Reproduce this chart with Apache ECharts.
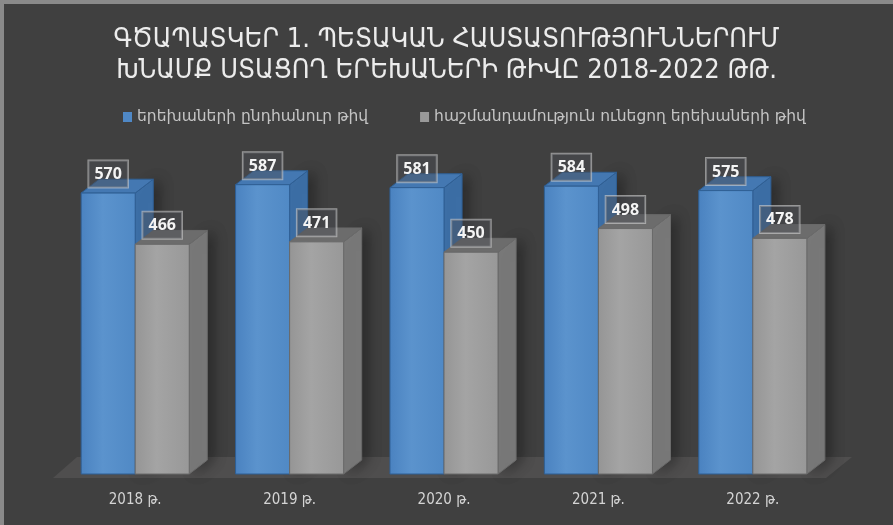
<!DOCTYPE html>
<html>
<head>
<meta charset="utf-8">
<script src="https://cdn.jsdelivr.net/npm/echarts@6/dist/echarts.min.js"></script>
<style>
	html,body{margin:0;padding:0;background:#404040;}
	#chart{width:893px;height:525px;}
</style>
</head>
<body>
<div id="chart"></div>
<script>
	// data
	var years = ['2018 թ.','2019 թ.','2020 թ.','2021 թ.','2022 թ.'];
	var totalChildren = [570,587,581,584,575];
	var disabledChildren = [466,471,450,498,478];
	var seriesNames = ['երեխաների ընդհանուր թիվ','հաշմանդամություն ունեցող երեխաների թիվ'];

	var myChart = echarts.init(document.getElementById('chart'));

	// 3d-ish bar: side, top, front
	function makeBar(colors, sign){
		return function(params, api){
			var idx = api.value(0), val = api.value(1);
			var top = api.coord([idx, val]);
			var base = api.coord([idx, 0]);
			var band = api.size([1,0])[0];
			var w = band*0.35;
			var x0 = sign<0 ? top[0]-w : top[0];
			var x1 = x0+w;
			var yT = top[1], yB = base[1];
			var dx = band*0.117, dy = -band*0.09;
			return {
				type:'group',
				children:[
					{
						type:'polygon',
						shape:{points:[[x1,yB],[x1,yT],[x1+dx,yT+dy],[x1+dx,yB+dy]]},
						style:{fill:colors.side,stroke:colors.edge,lineWidth:1,shadowBlur:14,shadowColor:'rgba(0,0,0,0.35)',shadowOffsetX:6}
					},
					{
						type:'polygon',
						shape:{points:[[x0,yT],[x1,yT],[x1+dx,yT+dy],[x0+dx,yT+dy]]},
						style:{fill:colors.top,stroke:colors.edge,lineWidth:1}
					},
					{
						type:'rect',
						shape:{x:x0,y:yT,width:w,height:yB-yT},
						style:{
							fill:new echarts.graphic.LinearGradient(0,0,1,0,[
								{offset:0,color:colors.front[0]},
								{offset:0.4,color:colors.front[1]},
								{offset:1,color:colors.front[2]}
							]),
							stroke:colors.edge,lineWidth:1
						},
						textContent:{
							style:{
								text:String(val),
								fill:'#f4f4f4',
								font:'bold 16px "Open Sans"',
								backgroundColor:'rgba(75,78,84,0.45)',
								borderColor:'rgba(210,210,210,0.6)',
								borderWidth:1,
								padding:[6,6,5,6]
							}
						},
						textConfig:{position:'top',distance:5}
					}
				]
			};
		};
	}

	function renderFloor(params, api){
		var cs = params.coordSys;
		var yB = cs.y+cs.height+4;
		var xL = cs.x-5, xR = cs.x+cs.width-4;
		return {
			type:'polygon',
			silent:true,
			shape:{points:[[xL,yB],[xR,yB],[xR+26,yB-21],[xL+24,yB-21]]},
			style:{fill:'#4f4e4e'}
		};
	}

	var option = {
		backgroundColor:'#404040',
		animation:false,
		title:{
			text:'ԳԾԱՊԱՏԿԵՐ 1. ՊԵՏԱԿԱՆ ՀԱՍՏԱՏՈՒԹՅՈՒՆՆԵՐՈՒՄ\nԽՆԱՄՔ ՍՏԱՑՈՂ ԵՐԵԽԱՆԵՐԻ ԹԻՎԸ 2018-2022 ԹԹ.',
			left:'center',
			top:19,
			textStyle:{
				color:'#ececec',
				fontSize:27,
				lineHeight:31,
				fontWeight:'normal',
				fontFamily:'DejaVu Sans Condensed'
			}
		},
		legend:{
			data:seriesNames,
			top:104,
			left:118,
			itemWidth:9,
			itemHeight:10,
			itemGap:52,
			icon:'rect',
			textStyle:{color:'#c4c4c4',fontSize:15.5,fontFamily:'DejaVu Sans'}
		},
		grid:{left:58,right:63,top:129,bottom:51},
		xAxis:{
			type:'category',
			data:years,
			axisLine:{show:false},
			axisTick:{show:false},
			axisLabel:{color:'#d4d4d4',fontSize:15,margin:19,fontFamily:'DejaVu Sans Condensed'}
		},
		yAxis:{
			type:'value',
			min:0,
			max:700,
			show:false,
			splitLine:{show:false}
		},
		graphic:[
			{type:'rect',shape:{x:0,y:0,width:893,height:4},style:{fill:'#8a8a8a'},z:100},
			{type:'rect',shape:{x:0,y:0,width:4,height:525},style:{fill:'#8a8a8a'},z:100}
		],
		series:[
			{
				type:'custom',
				name:'floor',
				silent:true,
				renderItem:renderFloor,
				data:[[0]],
				z:1
			},
			{
				type:'custom',
				name:seriesNames[0],
				itemStyle:{color:'#4f88c6'},
				renderItem:makeBar({front:['#4a82c0','#5b93cd','#5089c5'],side:'#3d70a8',top:'#4478b2',edge:'#2f5f94'},-1),
				data:totalChildren.map(function(v,i){return [i,v];}),
				z:2
			},
			{
				type:'custom',
				name:seriesNames[1],
				itemStyle:{color:'#9a9a9a'},
				renderItem:makeBar({front:['#959595','#a4a4a4','#989898'],side:'#7a7a7a',top:'#6c6c6c',edge:'#6a6a6a'},1),
				data:disabledChildren.map(function(v,i){return [i,v];}),
				z:3
			}
		]
	};
	myChart.setOption(option);
</script>
</body>
</html>
